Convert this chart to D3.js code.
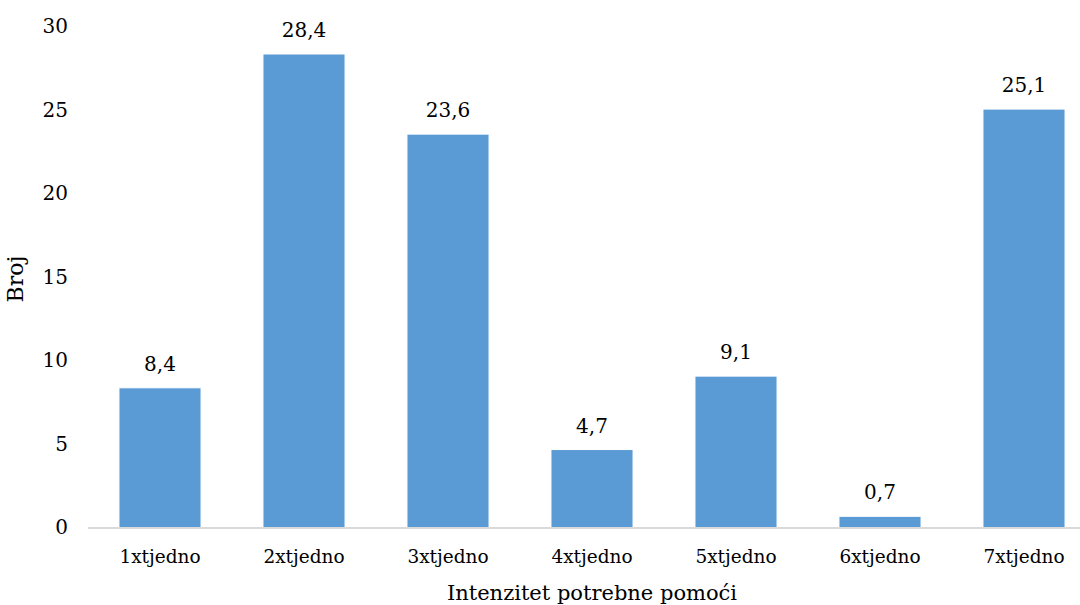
<!DOCTYPE html>
<html>
<head>
<meta charset="utf-8">
<script src="https://cdn.jsdelivr.net/npm/d3@7"></script>
<style>
  body { margin: 0; background: #fff; }
</style>
</head>
<body>
<div class="chart"></div>
<script>
// values
const categories = ['1xtjedno', '2xtjedno', '3xtjedno', '4xtjedno', '5xtjedno', '6xtjedno', '7xtjedno'];
const values = [8.4, 28.4, 23.6, 4.7, 9.1, 0.7, 25.1];
const yTicks = [0, 5, 10, 15, 20, 25, 30];

const width = 1080, height = 605;
const margin = { top: 27.3, right: -16, bottom: 77, left: 88 };
// only serif face that actually renders in the sandbox
const serif = 'DejaVu Serif, serif';

const svg = d3.select('.chart')
  .append('svg')
  .attr('width', width)
  .attr('height', height);

const x = d3.scaleBand()
  .domain(categories)
  .range([margin.left, width - margin.right])
  .paddingInner(0.43)
  .paddingOuter(0.215);

const y = d3.scaleLinear()
  .domain([0, 30])
  .range([height - margin.bottom, margin.top]);

// bars
svg.selectAll('rect.bar')
  .data(values)
  .enter()
  .append('rect')
  .attr('class', 'bar')
  .attr('x', (d, i) => x(categories[i]))
  .attr('y', d => y(d))
  .attr('width', x.bandwidth())
  .attr('height', d => y(0) - y(d))
  .attr('fill', '#5b9bd5')
  .attr('stroke', '#ffffff')
  .attr('stroke-width', 1);

// value labels
svg.selectAll('text.val')
  .data(values)
  .enter()
  .append('text')
  .attr('class', 'val')
  .attr('x', (d, i) => x(categories[i]) + x.bandwidth() / 2)
  .attr('y', d => y(d) - 17)
  .attr('text-anchor', 'middle')
  .attr('font-family', serif)
  .attr('font-size', 20)
  .text(d => d3.format('.1f')(d).replace('.', ','));

// baseline
svg.append('line')
  .attr('x1', margin.left)
  .attr('x2', width)
  .attr('y1', y(0))
  .attr('y2', y(0))
  .attr('stroke', '#d9d9d9')
  .attr('stroke-width', 2);

// y tick labels
svg.selectAll('text.ytick')
  .data(yTicks)
  .enter()
  .append('text')
  .attr('class', 'ytick')
  .attr('x', 68)
  .attr('y', d => y(d) + 6)
  .attr('text-anchor', 'end')
  .attr('font-family', serif)
  .attr('font-size', 20)
  .text(d => d);

// x tick labels
svg.selectAll('text.xtick')
  .data(categories)
  .enter()
  .append('text')
  .attr('class', 'xtick')
  .attr('x', d => x(d) + x.bandwidth() / 2)
  .attr('y', 563)
  .attr('text-anchor', 'middle')
  .attr('font-family', serif)
  .attr('font-size', 18.5)
  .text(d => d);

// axis titles
svg.append('text')
  .attr('x', 592)
  .attr('y', 600)
  .attr('text-anchor', 'middle')
  .attr('font-family', serif)
  .attr('font-size', 21)
  .text('Intenzitet potrebne pomoći');

svg.append('text')
  .attr('transform', `translate(23, 279) rotate(-90)`)
  .attr('text-anchor', 'middle')
  .attr('font-family', serif)
  .attr('font-size', 22)
  .text('Broj');
</script>
</body>
</html>
